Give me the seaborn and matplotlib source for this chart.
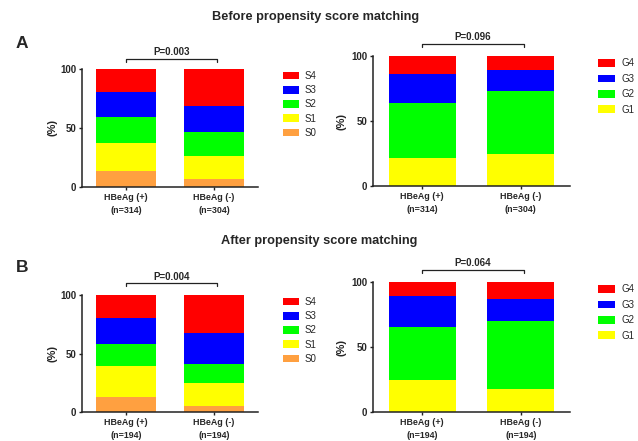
import matplotlib
matplotlib.use("Agg")
import matplotlib.pyplot as plt
from matplotlib.patches import Patch
import numpy as np
import seaborn as sns

sns.set_style("ticks")
plt.rcParams["font.family"] = ["Liberation Sans", "DejaVu Sans"]

# Group labels
groups_before = ["HBeAg (+)\n(n=314)", "HBeAg (-)\n(n=304)"]
groups_after = ["HBeAg (+)\n(n=194)", "HBeAg (-)\n(n=194)"]

# Fibrosis stage (%), HBeAg(+) then HBeAg(-)
stage_labels = ["S0", "S1", "S2", "S3", "S4"]
stage_colors = ["#FFA040", "#FFFF00", "#00FF00", "#0000FF", "#FF0000"]
s0_before = [13.3, 6.8]
s1_before = [24.1, 19.8]
s2_before = [22.1, 19.6]
s3_before = [20.7, 22.6]
s4_before = [19.8, 31.2]
s0_after = [12.5, 5.4]
s1_after = [26.6, 19.2]
s2_after = [19.3, 16.8]
s3_after = [21.8, 25.7]
s4_after = [19.8, 32.9]

# Inflammation grade (%), HBeAg(+) then HBeAg(-)
grade_labels = ["G1", "G2", "G3", "G4"]
grade_colors = ["#FFFF00", "#00FF00", "#0000FF", "#FF0000"]
g1_before = [21.4, 24.7]
g2_before = [42.6, 48.5]
g3_before = [22.5, 16.3]
g4_before = [13.5, 10.5]
g1_after = [24.8, 17.6]
g2_after = [40.9, 52.2]
g3_after = [23.6, 17.4]
g4_after = [10.7, 12.8]

# P values
p_stage_before = "P=0.003"
p_grade_before = "P=0.096"
p_stage_after = "P=0.004"
p_grade_after = "P=0.064"

W, H = 638, 441
fig = plt.figure(figsize=(W / 100, H / 100), dpi=100)


def px_axes(x0, x1, y0, y1):
    return fig.add_axes([x0 / W, 1 - y1 / H, (x1 - x0) / W, (y1 - y0) / H])


def stacked(ax, groups, layers, colors, width, p_text, bracket_y, tick_len, ylab_x):
    cum = np.cumsum(np.array(layers, dtype=float), axis=0)
    for k in range(len(layers) - 1, -1, -1):
        sns.barplot(x=groups, y=cum[k], color=colors[k], width=width,
                    saturation=1, errorbar=None, linewidth=0, ax=ax)
    ax.set_xlim(-0.5, 1.5)
    ax.set_ylim(0, 100)
    ax.set_yticks([0, 50, 100])
    ax.set_yticklabels(["0", "50", "100"])
    sns.despine(ax=ax)
    for side in ("left", "bottom"):
        ax.spines[side].set_linewidth(1.1)
        ax.spines[side].set_color("#222222")
    ax.tick_params(axis="both", length=2.5, width=1.0, color="#222222", pad=1.5)
    ax.set_xticks([0, 1])
    ax.set_xticklabels(groups)
    for t in ax.get_xticklabels():
        t.set_fontsize(6.4)
        t.set_fontweight("bold")
        t.set_linespacing(1.7)
    for t in ax.get_yticklabels():
        t.set_fontsize(7)
        t.set_fontweight("bold")
    ax.set_xlabel("")
    ax.set_ylabel("(%)", fontsize=8, fontweight="bold")
    ax.yaxis.set_label_coords(ylab_x, 0.5)
    # significance bracket
    x0, x1 = 0.0, 1.03
    ax.plot([x0, x0, x1, x1], [bracket_y - tick_len, bracket_y, bracket_y, bracket_y - tick_len],
            color="#222222", lw=0.9, clip_on=False)
    ax.text((x0 + x1) / 2, bracket_y + 1.5, p_text, ha="center", va="bottom",
            fontsize=7, fontweight="bold", clip_on=False)


def legend(labels, colors, x, y, spacing, hl, hh, pad):
    handles = [Patch(facecolor=c, edgecolor="none") for c in colors]
    fig.legend(handles[::-1], labels[::-1], loc="upper left",
               bbox_to_anchor=(x / W, 1 - y / H), bbox_transform=fig.transFigure,
               frameon=False, fontsize=7, borderpad=0, borderaxespad=0,
               labelspacing=spacing, handlelength=hl, handleheight=hh,
               handletextpad=pad)


# Panel A: before matching
ax1 = px_axes(82, 258, 69, 187)
stacked(ax1, groups_before, [s0_before, s1_before, s2_before, s3_before, s4_before],
        stage_colors, 0.69, p_stage_before, 108.5, 2.5, -0.142)
ax2 = px_axes(373, 570, 56, 186)
stacked(ax2, groups_before, [g1_before, g2_before, g3_before, g4_before],
        grade_colors, 0.685, p_grade_before, 109.2, 2.3, -0.132)

# Panel B: after matching
ax3 = px_axes(82, 258, 295, 412)
stacked(ax3, groups_after, [s0_after, s1_after, s2_after, s3_after, s4_after],
        stage_colors, 0.69, p_stage_after, 110.0, 2.5, -0.142)
ax4 = px_axes(373, 570, 282, 412)
stacked(ax4, groups_after, [g1_after, g2_after, g3_after, g4_after],
        grade_colors, 0.685, p_grade_after, 109.2, 2.3, -0.132)

legend(stage_labels, stage_colors, 283, 71, 0.43, 1.6, 0.8, 0.6)
legend(grade_labels, grade_colors, 598, 58.5, 0.55, 1.7, 0.8, 0.7)
legend(stage_labels, stage_colors, 283, 297, 0.43, 1.6, 0.8, 0.6)
legend(grade_labels, grade_colors, 598, 284.5, 0.55, 1.7, 0.8, 0.7)

fig.text(316 / W, 1 - 17 / H, "Before propensity score matching",
         ha="center", va="center", fontsize=9.2, fontweight="bold")
fig.text(319 / W, 1 - 241 / H, "After propensity score matching",
         ha="center", va="center", fontsize=9.2, fontweight="bold")
fig.text(21.5 / W, 1 - 43 / H, "A", ha="center", va="center", fontsize=12.5, fontweight="bold")
fig.text(22.5 / W, 1 - 268 / H, "B", ha="center", va="center", fontsize=12.5, fontweight="bold")

fig.savefig("out.png", dpi=100)
